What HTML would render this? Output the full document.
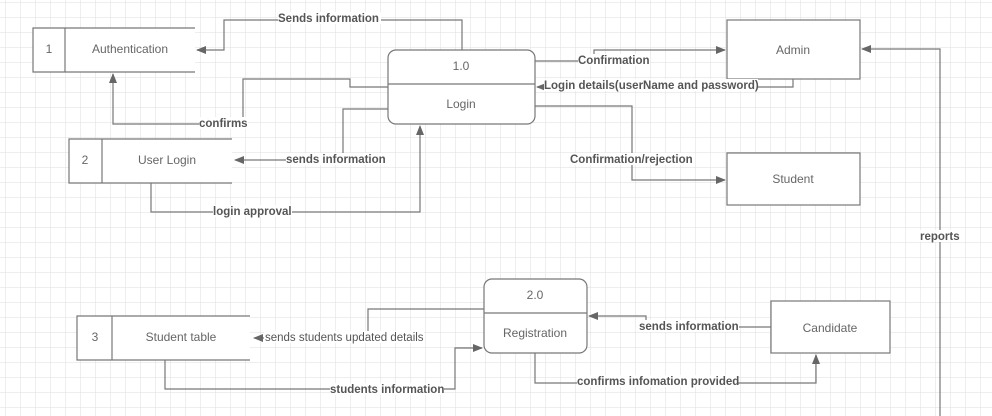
<!DOCTYPE html>
<html><head><meta charset="utf-8"><style>
html,body{margin:0;padding:0;background:#fff}
svg{display:block}
.n{font-family:"Liberation Sans",sans-serif;font-size:12px;fill:#666}
.l{font-family:"Liberation Sans",sans-serif;font-size:11.5px;font-weight:bold;fill:#555}
</style></head><body>
<svg width="992" height="416" viewBox="0 0 992 416" xmlns="http://www.w3.org/2000/svg">
<defs>
<pattern id="g" x="5" y="2" width="15" height="15" patternUnits="userSpaceOnUse">
<path d="M0 0H15M0 0V15" stroke="#dedede" stroke-width="1" fill="none"/>
</pattern>
<marker id="a" markerWidth="10" markerHeight="8" refX="9" refY="4" orient="auto" markerUnits="userSpaceOnUse">
<path d="M0 0L10 4L0 8Z" fill="#666"/>
</marker>
</defs>
<rect width="992" height="416" fill="url(#g)"/>
<g fill="none" stroke="#777" stroke-width="1.2">
<polyline points="462,50 462,20 224,20 224,50 197,50" marker-end="url(#a)"/>
<polyline points="388,87 350,87 350,79 243,79 243,124 113,124 113,74" marker-end="url(#a)"/>
<polyline points="388,109 343,109 343,160 235,160" marker-end="url(#a)"/>
<polyline points="151,183 151,212 420,212 420,126" marker-end="url(#a)"/>
<polyline points="535,61 594,61 594,50 725,50" marker-end="url(#a)"/>
<polyline points="793,79 793,87 537,87" marker-end="url(#a)"/>
<polyline points="535,106 632,106 632,180 725,180" marker-end="url(#a)"/>
<polyline points="940,416 940,49 862,49" marker-end="url(#a)"/>
<polyline points="484,309 368,309 368,338 254,338" marker-end="url(#a)"/>
<polyline points="165,360 165,389 455,389 455,348 482,348" marker-end="url(#a)"/>
<polyline points="771,327 646,327 646,316 589,316" marker-end="url(#a)"/>
<polyline points="535,353 535,383 816,383 816,355" marker-end="url(#a)"/>
</g>
<g fill="#fff" stroke="#777" stroke-width="1.2">
<rect x="33" y="28" width="162" height="44" stroke="none"/>
<polyline points="195,28 33,28 33,72 195,72" fill="none"/><line x1="65" y1="28" x2="65" y2="72"/>
<rect x="69" y="139" width="163" height="44" stroke="none"/>
<polyline points="232,139 69,139 69,183 232,183" fill="none"/><line x1="102" y1="139" x2="102" y2="183"/>
<rect x="77" y="316" width="173" height="44" stroke="none"/>
<polyline points="250,316 77,316 77,360 250,360" fill="none"/><line x1="112" y1="316" x2="112" y2="360"/>
<rect x="388" y="50" width="147" height="74" rx="8"/><line x1="388" y1="84" x2="535" y2="84"/>
<rect x="484" y="279" width="103" height="74" rx="8"/><line x1="484" y1="313" x2="587" y2="313"/>
<rect x="727" y="20" width="133" height="59"/>
<rect x="727" y="153" width="133" height="52"/>
<rect x="771" y="301" width="119" height="52"/>
</g>
<g class="n" text-anchor="middle">
<text x="49" y="53">1</text><text x="130" y="53">Authentication</text>
<text x="85" y="164">2</text><text x="167" y="164">User Login</text>
<text x="95" y="341">3</text><text x="181" y="341">Student table</text>
<text x="461" y="70">1.0</text><text x="461" y="108">Login</text>
<text x="535" y="299">2.0</text><text x="535" y="337">Registration</text>
<text x="793" y="54">Admin</text>
<text x="793" y="183">Student</text>
<text x="830" y="332">Candidate</text>
</g>
<g class="l">
<rect x="278" y="12" width="103" height="12" fill="#fff"/><text x="278" y="22">Sends information</text>
<rect x="199" y="117" width="49" height="12" fill="#fff"/><text x="199" y="127">confirms</text>
<rect x="286" y="153" width="100" height="12" fill="#fff"/><text x="286" y="163">sends information</text>
<rect x="213" y="205" width="79" height="12" fill="#fff"/><text x="213" y="215">login approval</text>
<rect x="578" y="54" width="72" height="12" fill="#fff"/><text x="578" y="64">Confirmation</text>
<rect x="544" y="79" width="214" height="12" fill="#fff"/><text x="544" y="89">Login details(userName and password)</text>
<rect x="570" y="153" width="123" height="12" fill="#fff"/><text x="570" y="163">Confirmation/rejection</text>
<rect x="919" y="230" width="42" height="12" fill="#fff"/><text x="920" y="240">reports</text>
<rect x="639" y="320" width="100" height="12" fill="#fff"/><text x="639" y="330">sends information</text>
<rect x="577" y="375" width="161" height="12" fill="#fff"/><text x="577" y="385">confirms infomation provided</text>
<rect x="330" y="383" width="114" height="12" fill="#fff"/><text x="330" y="393">students information</text>
</g>
<rect x="264" y="331" width="160" height="12" fill="#fff"/>
<text x="265" y="341" class="n" style="fill:#555;font-size:11.5px">sends students updated details</text>
</svg>
</body></html>
